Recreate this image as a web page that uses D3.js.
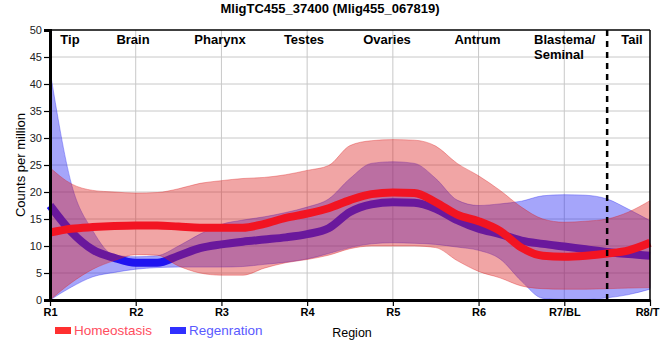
<!DOCTYPE html>
<html>
<head>
<meta charset="utf-8">
<script src="https://cdn.jsdelivr.net/npm/d3@7"></script>
<style>
  html, body { margin: 0; padding: 0; background: #fff; }
  svg { display: block; font-family: "Liberation Sans", Arial, sans-serif; }
</style>
</head>
<body>
<svg id="chart" width="660" height="360"></svg>
<script>
// ---------- data ----------
const title = "MligTC455_37400 (Mlig455_067819)";
const regions = ["R1", "R2", "R3", "R4", "R5", "R6", "R7/BL", "R8/T"];
const tissues = ["Tip", "Brain", "Pharynx", "Testes", "Ovaries", "Antrum", "Blastema/|Seminal", "Tail"];
const yTicks = [0, 5, 10, 15, 20, 25, 30, 35, 40, 45, 50];
const seriesNames = ["Homeostasis", "Regenration"];

// sample positions along the region axis (1 = R1 ... 8 = R8)
const samplePos = [1, 1.25, 1.5, 1.75, 2, 2.25, 2.5, 2.75, 3, 3.25, 3.5, 3.75, 4, 4.25, 4.5, 4.75,
                   5, 5.25, 5.5, 5.75, 6, 6.25, 6.5, 6.75, 7, 7.25, 7.5, 7.75, 8];

const homeoMean  = [12.5, 13.2, 13.5, 13.7, 13.8, 13.8, 13.6, 13.4, 13.4, 13.4, 14.1, 15.2, 16.0, 17.0, 18.5, 19.6,
                    19.9, 19.8, 18.1, 15.8, 14.6, 12.8, 9.7, 8.2, 8.0, 8.2, 8.6, 9.2, 10.6];
const homeoUpper = [24.5, 21.5, 20.3, 20.0, 19.8, 19.9, 20.6, 21.6, 22.1, 22.5, 22.7, 23.2, 24.0, 24.9, 28.6, 29.5,
                    29.7, 29.6, 28.5, 25.3, 23.0, 20.3, 17.2, 15.0, 14.4, 14.6, 15.0, 16.3, 18.4];
const homeoLower = [0.0, 3.2, 5.7, 7.3, 8.4, 8.3, 6.3, 5.0, 4.6, 4.6, 5.9, 6.9, 7.5, 8.3, 9.5, 10.0,
                    10.0, 10.0, 9.7, 7.3, 5.3, 4.1, 2.6, 2.1, 2.0, 2.0, 2.1, 2.2, 2.3];

const regenMean  = [17.5, 12.6, 9.3, 7.8, 6.9, 6.9, 8.2, 9.6, 10.3, 10.8, 11.2, 11.6, 12.2, 13.3, 16.3, 17.7,
                    18.1, 18.0, 16.9, 14.8, 13.2, 12.2, 11.0, 10.4, 9.9, 9.4, 8.9, 8.5, 8.2];
const regenUpper = [42.5, 21.5, 12.8, 8.3, 8.0, 8.2, 10.0, 12.2, 14.0, 14.8, 15.4, 16.2, 17.2, 18.7, 22.5, 25.3,
                    25.6, 25.3, 22.5, 18.5, 17.5, 17.8, 18.3, 19.3, 19.5, 19.4, 18.7, 16.8, 14.7];
const regenLower = [0.0, 2.4, 4.3, 5.1, 5.7, 6.0, 6.1, 6.1, 6.1, 6.2, 6.6, 7.0, 7.6, 8.6, 9.7, 10.4,
                    10.6, 10.5, 10.3, 9.8, 9.2, 7.6, 3.5, 0.3, 0.1, 0.1, 0.4, 1.0, 2.0];

const dividerPos = 7.5;

// ---------- layout ----------
const svg = d3.select("#chart");
const mLeft = 50, mRight = 650, mTop = 30, mBottom = 300;

const x = d3.scaleLinear().domain([1, 8]).range([mLeft, mRight]);
const y = d3.scaleLinear().domain([0, 50]).range([mBottom, mTop]);

const homeo = samplePos.map((p, i) => ({p, m: homeoMean[i], hi: homeoUpper[i], lo: homeoLower[i]}));
const regen = samplePos.map((p, i) => ({p, m: regenMean[i], hi: regenUpper[i], lo: regenLower[i]}));

const colors = {
  homeoBand: "rgb(220,30,30)", homeoLine: "rgb(242,20,34)",
  regenBand: "rgb(30,30,242)", regenLine: "rgb(30,20,240)"
};

// grid
const grid = svg.append("g");
grid.selectAll("line.h").data(yTicks.slice(1, -1)).join("line")
  .attr("x1", mLeft).attr("x2", mRight)
  .attr("y1", d => y(d)).attr("y2", d => y(d))
  .attr("stroke", "#c8c8c8").attr("stroke-width", 1);
grid.selectAll("line.v").data(d3.range(2, 8)).join("line")
  .attr("x1", d => x(d)).attr("x2", d => x(d))
  .attr("y1", mTop).attr("y2", mBottom)
  .attr("stroke", "#c8c8c8").attr("stroke-width", 1);

const area = d3.area().x(d => x(d.p)).y0(d => y(d.lo)).y1(d => y(d.hi)).curve(d3.curveMonotoneX);
const line = d3.line().x(d => x(d.p)).y(d => y(d.m)).curve(d3.curveMonotoneX);

const plot = svg.append("g");
plot.append("path").datum(regen).attr("d", area)
  .attr("fill", colors.regenBand).attr("fill-opacity", 0.4)
  .attr("stroke", colors.regenBand).attr("stroke-opacity", 0.35).attr("stroke-width", 1);
plot.append("path").datum(regen).attr("d", line)
  .attr("fill", "none").attr("stroke", colors.regenLine).attr("stroke-width", 8);
plot.append("path").datum(homeo).attr("d", area)
  .attr("fill", colors.homeoBand).attr("fill-opacity", 0.4)
  .attr("stroke", colors.homeoBand).attr("stroke-opacity", 0.35).attr("stroke-width", 1);
plot.append("path").datum(homeo).attr("d", line)
  .attr("fill", "none").attr("stroke", colors.homeoLine).attr("stroke-width", 8);

// divider
svg.append("line")
  .attr("x1", x(dividerPos)).attr("x2", x(dividerPos))
  .attr("y1", mTop).attr("y2", mBottom + 5)
  .attr("stroke", "#000").attr("stroke-width", 2.5).attr("stroke-dasharray", "6,5");

// frame
svg.append("line").attr("x1", mLeft).attr("x2", mRight).attr("y1", mTop).attr("y2", mTop)
  .attr("stroke", "#000").attr("stroke-width", 1.5);
svg.append("line").attr("x1", mRight).attr("x2", mRight).attr("y1", mTop).attr("y2", mBottom)
  .attr("stroke", "#000").attr("stroke-width", 1.5);

// axes
const yAxis = svg.append("g").attr("transform", `translate(${mLeft},0)`)
  .call(d3.axisLeft(y).tickValues(yTicks).tickSize(6).tickPadding(2));
yAxis.select(".domain").attr("stroke-width", 3);
yAxis.selectAll(".tick line").attr("stroke-width", 1.2);
yAxis.selectAll("text").attr("font-size", 11).attr("fill", "#222")
  .attr("font-family", "'Liberation Sans', Arial, sans-serif");

const xAxis = svg.append("g").attr("transform", `translate(0,${mBottom})`)
  .call(d3.axisBottom(x).tickValues(d3.range(1, 9)).tickFormat((d, i) => regions[i]).tickSize(6).tickPadding(2).tickSizeOuter(0));
xAxis.select(".domain").attr("stroke-width", 3);
xAxis.selectAll(".tick line").attr("stroke-width", 1.2);
xAxis.selectAll("text").attr("font-size", 11).attr("font-weight", "bold").attr("fill", "#000")
  .attr("font-family", "'Liberation Sans', Arial, sans-serif");
// keep the last label inside the picture
xAxis.selectAll(".tick").filter(d => d === 8).select("text")
  .attr("text-anchor", "end").attr("x", 9);

// tissue labels
const tissueX = [70, 133, 220, 304, 387, 477.5, 534, 632];
svg.append("g").selectAll("text").data(tissues).join("text")
  .each(function(d, i) {
    const t = d3.select(this);
    const parts = d.split("|");
    if (parts.length > 1) {
      t.attr("text-anchor", "start");
      parts.forEach((s, k) => t.append("tspan").attr("x", tissueX[i]).attr("y", 44 + k * 14.5).text(s));
    } else {
      t.attr("text-anchor", "middle").attr("x", tissueX[i]).attr("y", 44).text(d);
    }
  })
  .attr("font-size", 13).attr("font-weight", "bold").attr("fill", "#000");

// title
svg.append("text").attr("x", 330).attr("y", 13).attr("text-anchor", "middle")
  .attr("font-size", 13).attr("font-weight", "bold").text(title);

// axis titles
svg.append("text").attr("transform", `translate(25,${(mTop + mBottom) / 2}) rotate(-90)`)
  .attr("text-anchor", "middle").attr("font-size", 13).attr("fill", "#000").text("Counts per million");
svg.append("text").attr("x", (mLeft + mRight) / 2 + 2).attr("y", 337).attr("text-anchor", "middle")
  .attr("font-size", 12.5).attr("fill", "#000").text("Region");

// legend
const legend = svg.append("g");
const legendItems = [
  {name: seriesNames[0], rect: "#ff3030", text: "#ff4d5e", x: 55},
  {name: seriesNames[1], rect: "#3030ff", text: "#5a5aff", x: 170}
];
legendItems.forEach(it => {
  legend.append("rect").attr("x", it.x).attr("y", 327).attr("width", 16).attr("height", 7).attr("fill", it.rect);
  legend.append("text").attr("x", it.x + 19).attr("y", 335).attr("font-size", 13.5)
    .attr("fill", it.text).text(it.name);
});
</script>
</body>
</html>
